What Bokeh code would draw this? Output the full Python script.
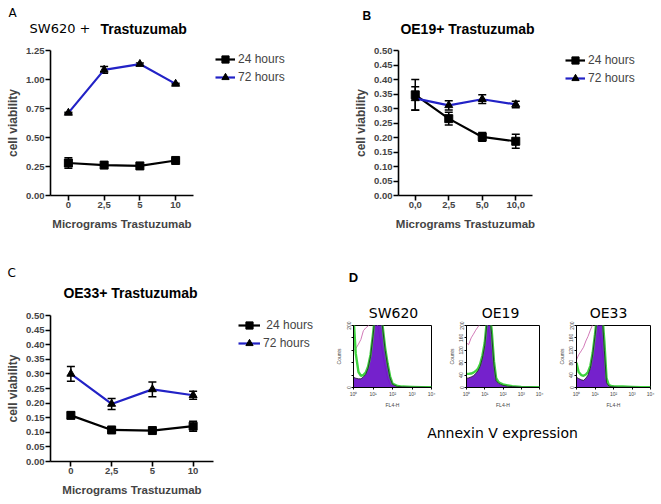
from bokeh.plotting import figure
from bokeh.layouts import row, column
from bokeh.models import (FactorRange, Range1d, FixedTicker, Whisker, TeeHead, ColumnDataSource,
                          Legend, LegendItem, Label, PrintfTickFormatter)
from bokeh.embed import file_html
from bokeh.resources import INLINE

# ---------------- data ----------------
doses_A = ["0", "2,5", "5", "10"]
sw620_24h = [0.280, 0.262, 0.255, 0.302]
sw620_24h_sem = [0.045, 0.010, 0.008, 0.012]
sw620_72h = [0.712, 1.083, 1.133, 0.962]
sw620_72h_sem = [0.006, 0.030, 0.010, 0.006]

doses_B = ["0,0", "2,5", "5,0", "10,0"]
oe19_24h = [0.347, 0.265, 0.202, 0.187]
oe19_24h_sem = [0.053, 0.022, 0.015, 0.024]
oe19_72h = [0.335, 0.311, 0.332, 0.314]
oe19_72h_sem = [0.040, 0.016, 0.015, 0.011]

doses_C = ["0", "2,5", "5", "10"]
oe33_24h = [0.158, 0.108, 0.106, 0.121]
oe33_24h_sem = [0.011, 0.006, 0.004, 0.017]
oe33_72h = [0.300, 0.197, 0.247, 0.227]
oe33_72h_sem = [0.025, 0.019, 0.025, 0.014]

yticks_A = [0.0, 0.25, 0.5, 0.75, 1.0, 1.25]
yticks_BC = [0.0, 0.05, 0.10, 0.15, 0.20, 0.25, 0.30, 0.35, 0.40, 0.45, 0.50]

series_labels = ["24 hours", "72 hours"]

# flow cytometry (FL4-H channel, counts)
fl4h = [1.0, 1.3, 1.8, 2.4, 3.2, 4.2, 5.6, 7.5, 10, 13, 18, 24, 32, 42, 56, 75, 100, 180, 320, 1000, 3200, 10000]
sw620_annexin = [33, 30, 28, 28, 34, 42, 62, 100, 165, 235, 260, 250, 185, 120, 70, 30, 10, 3, 2, 1, 1, 0]
sw620_overlay = [230, 110, 50, 38, 40, 48, 68, 106, 172, 242, 265, 255, 192, 128, 78, 36, 13, 5, 3, 2, 1, 1]
sw620_control = [119, 125, 140, 155, 183, 192, 198, 215, 235, 225, 195, 150, 105, 65, 30, 10, 4, 1, 0, 0, 0, 0]
oe19_annexin = [30, 31, 34, 38, 45, 53, 68, 95, 135, 205, 240, 170, 72, 22, 14, 10, 7, 4, 3, 1, 1, 0]
oe19_overlay = [44, 44, 45, 48, 53, 60, 76, 104, 145, 215, 250, 185, 85, 30, 18, 13, 10, 7, 4, 2, 1, 1]
oe19_control = [144, 138, 160, 172, 185, 195, 205, 220, 230, 210, 170, 110, 55, 20, 8, 3, 1, 0, 0, 0, 0, 0]
oe33_annexin = [33, 29, 25, 23, 30, 40, 62, 105, 165, 225, 250, 240, 120, 15, 5, 3, 2, 1, 1, 1, 0, 0]
oe33_overlay = [80, 50, 40, 38, 42, 50, 70, 112, 172, 232, 258, 248, 150, 30, 8, 5, 4, 3, 3, 2, 1, 1]
oe33_control = [89, 105, 118, 130, 150, 165, 185, 203, 215, 205, 170, 120, 60, 20, 6, 2, 1, 0, 0, 0, 0, 0]
count_ticks = [0, 40, 80, 120, 160, 200]
decade_ticks = [1, 10, 100, 1000, 10000]
decade_labels = ["10\u2070", "10\u00b9", "10\u00b2", "10\u00b3", "10\u2074"]

BLUE = "#2222c6"
ARIAL = "Liberation Sans"
LUCIDA = "DejaVu Sans"


def strip(width, height):
    """A blank figure whose frame covers the whole canvas, used for free text / legends."""
    s = figure(width=width, height=height, x_range=Range1d(0, 1), y_range=Range1d(0, 1),
               output_backend="svg", toolbar_location=None, min_border=0, title=None)
    s.axis.visible = False
    s.grid.visible = False
    s.outline_line_color = None
    return s


def add_text(p, fl, fb, X, Y, text, size, font, style="normal", align="left", color="black"):
    p.add_layout(Label(x=X - fl, y=fb - Y, x_units="screen", y_units="screen", text=text,
                       text_font=font, text_font_size=size, text_font_style=style,
                       text_align=align, text_baseline="middle", text_color=color))


def legend_box(width, height, offset, glyph_w, leg_labels):
    s = strip(width, height)
    items = []
    for color, marker, lab in [("black", "square", leg_labels[0]), (BLUE, "triangle", leg_labels[1])]:
        # key glyphs only: their single sample lies outside the visible range
        ln = s.line([-5, -4], [-5, -5], line_color=color, line_width=2.2)
        sc = s.scatter([-5], [-5], marker=marker, size=8, fill_color="black", line_color="black")
        items.append(LegendItem(label=lab, renderers=[ln, sc]))
    leg = Legend(items=items, location="top_left", glyph_width=glyph_w, glyph_height=18, label_height=18,
                 padding=0, margin=offset, spacing=0, border_line_alpha=0, background_fill_alpha=0,
                 label_text_font=ARIAL, label_text_font_size="12px", label_standoff=3)
    s.add_layout(leg)
    return s


def viability(width, height, left, right, top, bottom, factors, ymax, yticks, s24, e24, s72, e72):
    p = figure(width=width, height=height, x_range=FactorRange(*factors, range_padding=0),
               y_range=Range1d(0, ymax), output_backend="svg", toolbar_location=None,
               min_border_left=left, min_border_right=right, min_border_top=top,
               min_border_bottom=bottom, title=None)
    p.xgrid.visible = False
    p.ygrid.visible = False
    p.outline_line_color = None
    for ax in p.axis:
        ax.axis_line_width = 1.6
        ax.axis_line_color = "black"
        ax.major_tick_line_width = 1.6
        ax.major_tick_out = 5
        ax.major_tick_in = 0
        ax.minor_tick_out = 0
        ax.minor_tick_in = 0
        ax.major_label_text_font = ARIAL
        ax.major_label_text_font_style = "bold"
        ax.major_label_text_font_size = "9.5px"
        ax.major_label_standoff = 1
        ax.axis_label_text_font = ARIAL
        ax.axis_label_text_font_style = "bold"
    p.yaxis.ticker = FixedTicker(ticks=yticks)
    p.yaxis.formatter = PrintfTickFormatter(format="%.2f")
    p.yaxis.axis_label = "cell viability"
    p.yaxis.axis_label_text_font_size = "12px"
    p.yaxis.axis_label_standoff = 3
    p.xaxis.axis_label = "Micrograms Trastuzumab"
    p.xaxis.axis_label_text_font_size = "11.5px"
    p.xaxis.axis_label_standoff = 7

    for vals, errs, color, marker in [(s24, e24, "black", "square"), (s72, e72, BLUE, "triangle")]:
        src = ColumnDataSource(dict(x=factors, y=vals,
                                    lo=[v - e for v, e in zip(vals, errs)],
                                    hi=[v + e for v, e in zip(vals, errs)]))
        w = Whisker(base="x", lower="lo", upper="hi", source=src, line_color="black", line_width=1.5,
                    upper_head=TeeHead(size=8, line_width=1.5, line_color="black"),
                    lower_head=TeeHead(size=8, line_width=1.5, line_color="black"))
        p.add_layout(w)
        p.line("x", "y", source=src, line_color=color, line_width=2.2)
        p.scatter("x", "y", source=src, marker=marker, size=8, fill_color="black", line_color="black")
    return p


# ---- panel A: frame x 50..193, y 50..195 ; legend at x 215, top 50
tA = strip(207, 42)
add_text(tA, 0, 42, 8, 12, "A", "12px", LUCIDA)
add_text(tA, 0, 42, 90, 28, "SW620 +", "13px", LUCIDA, "normal", "right")
add_text(tA, 0, 42, 100, 28, "Trastuzumab", "14px", ARIAL, "bold")
pA = viability(207, 198, 50, 14, 8, 45, doses_A, 1.25, yticks_A,
               sw620_24h, sw620_24h_sem, sw620_72h, sw620_72h_sem)
sA = strip(123, 42)
lA = legend_box(123, 198, 8, 20, series_labels)

# ---- panel B: frame x 398..532, y 50..195 ; legend at x 565, top 51
tB = strip(227, 42)
add_text(tB, 330, 42, 362, 15, "B", "12px", ARIAL, "bold")
add_text(tB, 330, 42, 467, 28, "OE19+ Trastuzumab", "14px", ARIAL, "bold", "center")
pB = viability(227, 198, 68, 25, 8, 45, doses_B, 0.50, yticks_BC,
               oe19_24h, oe19_24h_sem, oe19_72h, oe19_72h_sem)
sB = strip(104, 43)
lB = legend_box(104, 197, 8, 20, series_labels)

# ---- panel C: frame x 50..213, y 315..461 ; legend at x 238, top 316
tC = strip(229, 67)
add_text(tC, 0, 307, 7, 272, "C", "12px", LUCIDA)
add_text(tC, 0, 307, 130, 292, "OE33+ Trastuzumab", "14px", ARIAL, "bold", "center")
pC = viability(229, 197, 50, 16, 8, 43, doses_C, 0.50, yticks_BC,
               oe33_24h, oe33_24h_sem, oe33_72h, oe33_72h_sem)
sC = strip(101, 67)
lC = legend_box(101, 197, 9, 22, [" 24 hours", "72 hours"])


# ---- panel D histograms: frames y 325..391
def histo(width, left, right, annexin, overlay, control, sparse_labels):
    p = figure(width=width, height=89, x_axis_type="log", x_range=Range1d(1, 10000),
               y_range=Range1d(0, 200), output_backend="svg", toolbar_location=None,
               min_border_left=left, min_border_right=right, min_border_top=4,
               min_border_bottom=19, title=None)
    p.xgrid.visible = False
    p.ygrid.visible = False
    p.outline_line_color = "black"
    p.outline_line_width = 1
    p.line(fl4h, control, line_color="#d27ab8", line_width=1)
    p.varea(x=fl4h, y1=[0] * len(fl4h), y2=annexin, fill_color="#6a10c8", fill_alpha=0.93)
    p.line(fl4h, overlay, line_color="#3fd23f", line_width=2.4)
    p.line(fl4h, annexin, line_color="#1a1a2a", line_width=0.8)
    for ax in p.axis:
        ax.axis_line_width = 1
        ax.major_tick_out = 2
        ax.major_tick_in = 0
        ax.minor_tick_out = 0
        ax.minor_tick_in = 0
        ax.major_label_text_font = ARIAL
        ax.major_label_text_font_size = "5px"
        ax.major_label_standoff = 1
        ax.axis_label_text_font = ARIAL
        ax.axis_label_text_font_size = "5px"
        ax.axis_label_text_font_style = "normal"
        ax.axis_label_standoff = 2
    p.xaxis.ticker = FixedTicker(ticks=decade_ticks)
    p.xaxis.major_label_overrides = {t: l for t, l in zip(decade_ticks, decade_labels)}
    p.xaxis.axis_label = "FL4-H"
    p.yaxis.ticker = FixedTicker(ticks=count_ticks)
    p.yaxis.major_label_orientation = "vertical"
    if sparse_labels:
        p.yaxis.major_label_overrides = {40: "", 80: "", 120: "", 160: ""}
    p.yaxis.axis_label = "Counts"
    return p


tD = strip(331, 81)
add_text(tD, 330, 321, 353, 277, "D", "13px", ARIAL, "bold", "center")
add_text(tD, 330, 321, 393, 312, "SW620", "14px", LUCIDA, "normal", "center")
add_text(tD, 330, 321, 500, 312, "OE19", "14px", LUCIDA, "normal", "center")
add_text(tD, 330, 321, 608, 312, "OE33", "14px", LUCIDA, "normal", "center")
h1 = histo(115, 23, 14, sw620_annexin, sw620_overlay, sw620_control, True)
h2 = histo(110, 18, 16, oe19_annexin, oe19_overlay, oe19_control, False)
h3 = histo(106, 18, 11, oe33_annexin, oe33_overlay, oe33_control, False)

annex = strip(331, 94)
add_text(annex, 330, 504, 502, 432, "Annexin V expression", "14px", LUCIDA, "normal", "center")

# each chart is wrapped in its own row so that the text strips above it keep full-width frames
layout = column(
    row(column(tA, row(pA)), column(sA, row(lA)), column(tB, row(pB)), column(sB, row(lB))),
    row(column(tC, row(pC)), column(sC, row(lC)), column(tD, row(h1, h2, h3), annex)))
open("out.html", "w").write(file_html(layout, INLINE))
